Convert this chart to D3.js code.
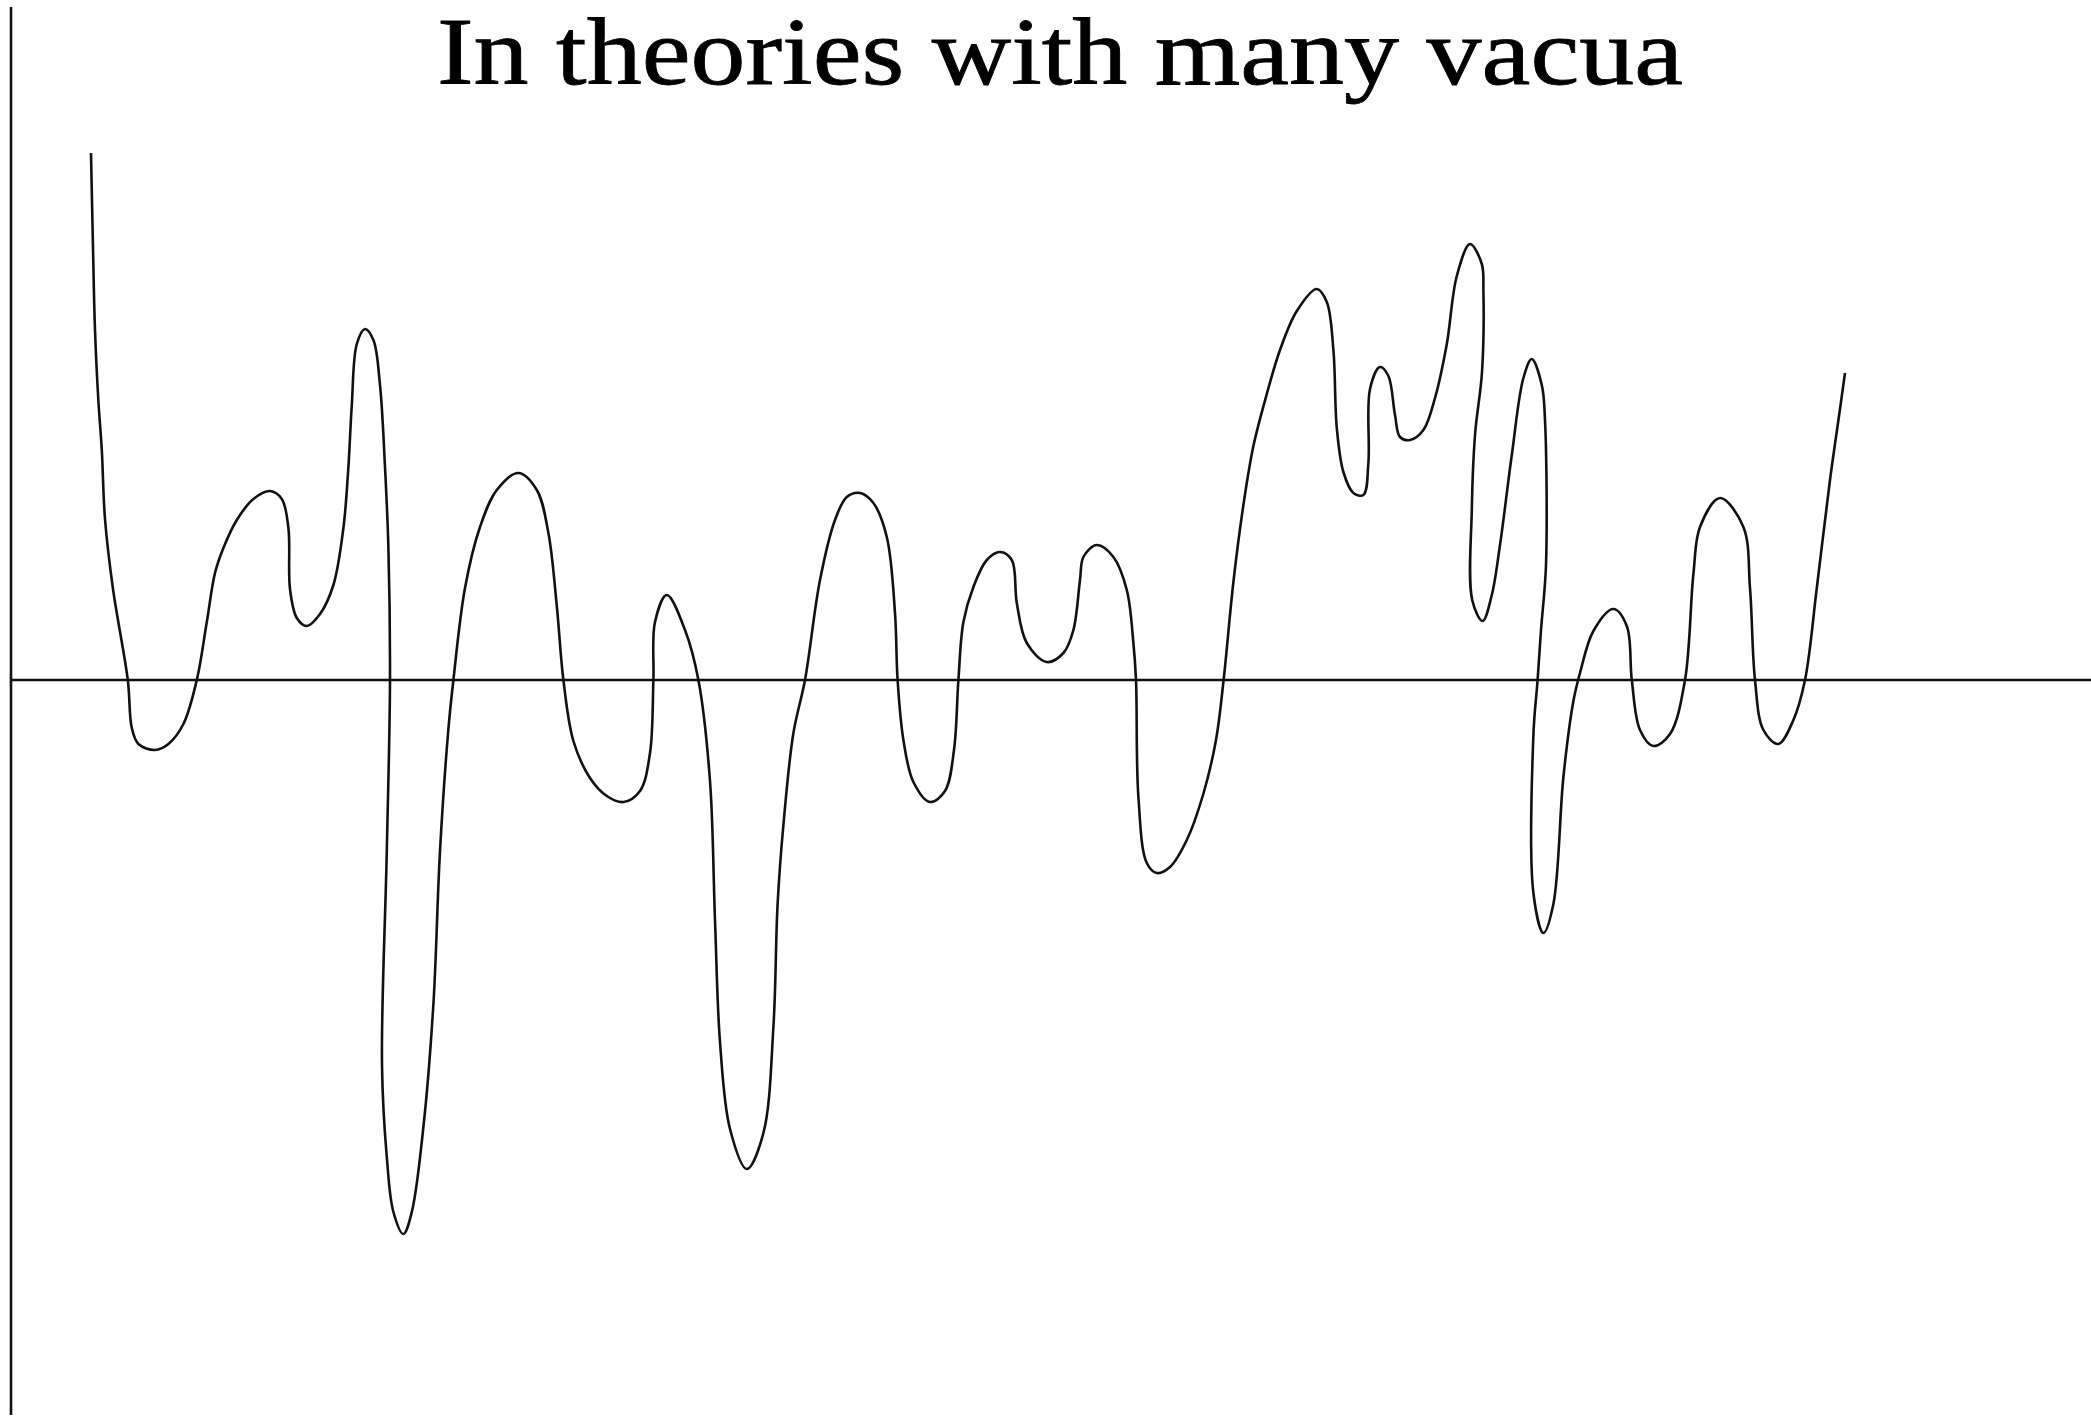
<!DOCTYPE html>
<html>
<head>
<meta charset="utf-8">
<script src="https://cdn.jsdelivr.net/npm/d3@7"></script>
<style>
  html, body { margin: 0; padding: 0; background: #ffffff; }
  svg { display: block; }
</style>
</head>
<body>
<svg id="chart" width="2091" height="1417"></svg>
<script>
// Field value φ along the horizontal axis
const phi = [
  4.00, 4.09, 4.20, 4.37, 4.54, 4.70, 5.10, 5.84, 6.04, 6.37,
  7.20, 7.87, 8.62, 9.29, 9.79, 10.20, 10.62, 11.29, 12.12, 12.95,
  13.54, 13.87, 13.95, 14.29, 14.79, 15.45, 16.12, 16.62, 16.87, 17.04,
  17.29, 17.70, 18.12, 18.45, 18.70, 18.87, 18.95, 18.79, 18.55, 18.79,
  19.12, 19.62, 20.04, 20.62, 21.12, 21.45, 21.87, 22.12, 22.70, 23.45,
  24.29, 25.37, 26.29, 26.87, 27.29, 27.62, 28.12, 28.95, 29.79, 30.62,
  31.45, 31.95, 32.12, 32.20, 32.79, 33.70, 34.37, 34.95, 35.20, 35.45,
  35.95, 36.79, 37.62, 38.12, 38.33, 38.62, 39.12, 39.70, 40.45, 41.20,
  41.79, 42.45, 43.12, 43.79, 44.20, 44.33, 44.62, 45.12, 45.95, 46.70,
  47.15, 47.37, 47.62, 48.12, 48.79, 49.45, 50.04, 50.29, 50.79, 51.79,
  52.62, 53.12, 53.45, 53.62, 54.29, 55.12, 55.79, 56.12, 56.25, 56.37,
  56.79, 57.29, 57.95, 58.79, 59.60, 60.25, 60.63, 61.12, 61.62, 62.12,
  62.79, 63.45, 64.29, 65.29, 65.79, 66.12, 66.29, 66.62, 67.12, 67.62,
  67.87, 67.95, 68.45, 68.87, 69.20, 69.45, 69.95, 70.62, 71.20, 71.79,
  72.29, 72.95, 73.54, 73.62, 73.55, 73.20, 73.04, 73.06, 73.58, 74.04,
  74.45, 75.04, 75.62, 76.04, 76.54, 76.70, 76.75, 76.50, 76.33, 76.12,
  76.12, 76.62, 77.12, 77.62, 78.12, 78.45, 79.12, 80.12, 80.79, 81.04,
  81.45, 82.12, 82.95, 83.70, 84.12, 84.45, 85.45, 86.62, 86.95, 87.20,
  87.62, 88.37, 89.12, 89.70, 90.29, 90.95, 91.45, 91.70
];

// Potential energy V(φ) at each field value
const potential = [
  52.7, 44.2, 35.0, 27.9, 23.0, 16.1, 9.1, 0.0, -4.8, -6.4,
  -7.0, -6.4, -4.4, 0.0, 5.8, 10.7, 13.2, 16.0, 18.1, 18.9,
  18.1, 15.2, 9.1, 6.2, 5.4, 6.6, 9.5, 15.2, 21.3, 27.5,
  33.6, 35.1, 34.0, 29.5, 21.3, 13.2, 0.0, -17.1, -38.5, -47.7,
  -53.2, -55.4, -53.2, -44.7, -32.4, -17.1, -4.9, 0.0, 9.2, 15.3,
  19.0, 20.7, 19.0, 14.7, 7.4, 0.0, -6.1, -9.8, -11.6, -12.2,
  -11.1, -7.3, 0.0, 5.8, 8.5, 5.0, 0.0, -10.1, -24.0, -36.2,
  -44.9, -48.9, -45.3, -34.7, -22.4, -14.5, -5.3, 0.0, 10.0, 16.0,
  18.3, 18.7, 17.7, 14.3, 6.7, 0.0, -6.0, -10.2, -12.2, -11.1,
  -7.0, 0.0, 5.8, 9.3, 12.0, 12.8, 12.0, 7.7, 3.7, 1.8,
  2.7, 5.0, 10.0, 12.3, 13.5, 12.3, 9.0, 3.7, 0.0, -11.7,
  -18.3, -19.3, -18.7, -16.0, -11.5, -6.0, 0.0, 9.8, 17.5, 23.4,
  28.6, 33.0, 36.9, 39.1, 37.8, 33.0, 25.2, 20.8, 18.7, 18.5,
  21.7, 29.1, 31.3, 30.4, 26.5, 24.3, 24.0, 25.0, 28.2, 33.6,
  40.4, 43.6, 41.6, 39.0, 30.8, 24.5, 17.0, 8.0, 5.9, 8.5,
  13.5, 22.5, 30.2, 32.1, 29.5, 26.0, 11.5, 5.0, 0.0, -5.5,
  -21.3, -25.3, -22.4, -9.7, -2.1, 0.7, 4.9, 7.1, 5.4, 0.0,
  -5.0, -6.6, -5.4, 0.0, 10.6, 15.3, 18.2, 15.3, 9.2, 0.0,
  -5.0, -6.4, -4.0, 0.0, 9.2, 20.0, 27.1, 30.7
];

const titleText = "In theories with many vacua";

const svg = d3.select("#chart");

const x = d3.scaleLinear().domain([0, 104]).range([11, 2091]);
const y = d3.scaleLinear().domain([-73.5, 67.3]).range([1415, 7]);

const ink = "#111";
const lineWidth = 2.6;

// Axes: V axis on the left, φ axis through V = 0
svg.append("line")
  .attr("x1", x(0)).attr("x2", x(0))
  .attr("y1", y(67.3)).attr("y2", y(-73.5))
  .attr("stroke", ink).attr("stroke-width", lineWidth);

svg.append("line")
  .attr("x1", x(0)).attr("x2", x(104))
  .attr("y1", y(0)).attr("y2", y(0))
  .attr("stroke", ink).attr("stroke-width", lineWidth);

// The landscape of vacua
const pts = phi.map((p, i) => [p, potential[i]]);
const line = d3.line()
  .x(d => x(d[0]))
  .y(d => y(d[1]))
  .curve(d3.curveCatmullRom.alpha(0.5));

svg.append("path")
  .datum(pts)
  .attr("d", line)
  .attr("fill", "none")
  .attr("stroke", ink)
  .attr("stroke-width", lineWidth)
  .attr("stroke-linejoin", "round");

// Title
svg.append("text")
  .attr("x", 437)
  .attr("y", 84)
  .attr("font-family", "'Liberation Serif', 'DejaVu Serif', serif")
  .attr("font-size", 95)
  .attr("fill", "#000")
  .attr("stroke", "#000")
  .attr("stroke-width", 0.8)
  .attr("textLength", 1246)
  .attr("lengthAdjust", "spacingAndGlyphs")
  .text(titleText);
</script>
</body>
</html>
